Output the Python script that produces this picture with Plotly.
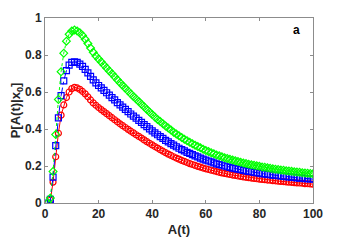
import plotly.graph_objects as go

A = list(range(1, 101))

green = [0.0, 0.027, 0.17, 0.37, 0.56, 0.71, 0.81, 0.875, 0.912, 0.93,
         0.935, 0.93, 0.92, 0.905, 0.885, 0.862, 0.838, 0.815, 0.795, 0.778,
         0.762, 0.746, 0.73, 0.714, 0.698, 0.682, 0.666, 0.65, 0.635, 0.62,
         0.605, 0.59, 0.576, 0.562, 0.548, 0.534, 0.52, 0.506, 0.492, 0.478,
         0.465, 0.452, 0.44, 0.428, 0.416, 0.405, 0.394, 0.383, 0.373, 0.363,
         0.354, 0.345, 0.336, 0.328, 0.32, 0.312, 0.305, 0.298, 0.291, 0.284,
         0.278, 0.272, 0.266, 0.26, 0.255, 0.25, 0.245, 0.24, 0.236, 0.232,
         0.228, 0.224, 0.22, 0.216, 0.213, 0.21, 0.207, 0.204, 0.201, 0.198,
         0.195, 0.193, 0.19, 0.188, 0.185, 0.183, 0.181, 0.179, 0.177, 0.175,
         0.173, 0.171, 0.169, 0.167, 0.166, 0.164, 0.162, 0.161, 0.159, 0.158]

blue = [0.0, 0.02, 0.14, 0.31, 0.46, 0.58, 0.66, 0.715, 0.745, 0.76,
        0.763, 0.76, 0.751, 0.738, 0.722, 0.703, 0.684, 0.665, 0.649, 0.635,
        0.622, 0.609, 0.596, 0.583, 0.57, 0.557, 0.543, 0.53, 0.518, 0.506,
        0.494, 0.481, 0.47, 0.459, 0.447, 0.436, 0.424, 0.413, 0.401, 0.39,
        0.379, 0.369, 0.359, 0.349, 0.339, 0.33, 0.321, 0.313, 0.304, 0.296,
        0.289, 0.282, 0.274, 0.268, 0.261, 0.255, 0.249, 0.243, 0.237, 0.232,
        0.227, 0.222, 0.217, 0.212, 0.208, 0.204, 0.2, 0.196, 0.193, 0.189,
        0.186, 0.183, 0.18, 0.176, 0.174, 0.171, 0.169, 0.166, 0.164, 0.162,
        0.159, 0.157, 0.155, 0.153, 0.151, 0.149, 0.148, 0.146, 0.144, 0.143,
        0.141, 0.14, 0.138, 0.136, 0.135, 0.134, 0.132, 0.131, 0.13, 0.129]

red = [0.0, 0.015, 0.113, 0.25, 0.377, 0.475, 0.53, 0.57, 0.6, 0.618,
       0.625, 0.622, 0.614, 0.603, 0.59, 0.574, 0.557, 0.541, 0.528, 0.516,
       0.505, 0.494, 0.483, 0.472, 0.461, 0.45, 0.439, 0.428, 0.418, 0.408,
       0.398, 0.388, 0.379, 0.369, 0.36, 0.351, 0.341, 0.332, 0.323, 0.314,
       0.305, 0.297, 0.288, 0.28, 0.272, 0.264, 0.257, 0.25, 0.243, 0.237,
       0.23, 0.225, 0.219, 0.213, 0.208, 0.203, 0.198, 0.194, 0.189, 0.185,
       0.181, 0.177, 0.174, 0.17, 0.166, 0.163, 0.16, 0.157, 0.154, 0.151,
       0.149, 0.146, 0.144, 0.141, 0.139, 0.137, 0.135, 0.133, 0.131, 0.129,
       0.127, 0.126, 0.124, 0.123, 0.121, 0.12, 0.118, 0.117, 0.116, 0.114,
       0.113, 0.112, 0.11, 0.109, 0.108, 0.107, 0.105, 0.104, 0.103, 0.102]

x_ticks = [0, 20, 40, 60, 80, 100]
y_ticks = [0, 0.2, 0.4, 0.6, 0.8, 1]
y_tick_labels = ["0", "0.2", "0.4", "0.6", "0.8", "1"]

FONT = "Liberation Sans, Arial, sans-serif"

fig = go.Figure()
series = [
    (red, "#ff0000", "circle-open", "solid"),
    (blue, "#0000ff", "square-open", "dashdot"),
    (green, "#00ff00", "diamond-open", "dot"),
]
for vals, col, sym, dash in series:
    fig.add_trace(go.Scatter(
        x=A, y=vals, mode="lines+markers",
        line=dict(color=col, width=1, dash=dash),
        marker=dict(symbol=sym, size=6, color=col, line=dict(width=1.2, color=col)),
        showlegend=False,
    ))

axis_common = dict(
    showline=True, linecolor="#8c8c8c", linewidth=1, mirror="ticks",
    ticks="inside", ticklen=3, tickcolor="#8c8c8c", showgrid=False, zeroline=False,
    automargin=False,
    tickfont=dict(family=FONT, size=12, color="#262626"),
)

fig.update_xaxes(range=[0, 100], tickvals=x_ticks,
                 ticktext=[f"<b>{t}</b>" for t in x_ticks],
                 title=dict(text="<b>A(t)</b>", standoff=4,
                            font=dict(family=FONT, size=13, color="#262626")),
                 **axis_common)
fig.update_yaxes(range=[0, 1], tickvals=y_ticks,
                 ticktext=[f"<b>{t}</b>" for t in y_tick_labels],
                 title=dict(text="<b>P[A(t)|x<sub>0</sub>]</b>", standoff=4,
                            font=dict(family=FONT, size=13, color="#262626")),
                 **axis_common)

fig.add_annotation(x=94, y=0.937, xref="x", yref="y", text="<b>a</b>", showarrow=False,
                   font=dict(family=FONT, size=12, color="#000000"))

# page body has an 8px default margin, so the figure is sized to fit the window
fig.update_layout(
    width=338, height=234,
    margin=dict(l=37, r=33, t=10, b=39),
    plot_bgcolor="white", paper_bgcolor="white",
)

fig.write_html("out.html")
